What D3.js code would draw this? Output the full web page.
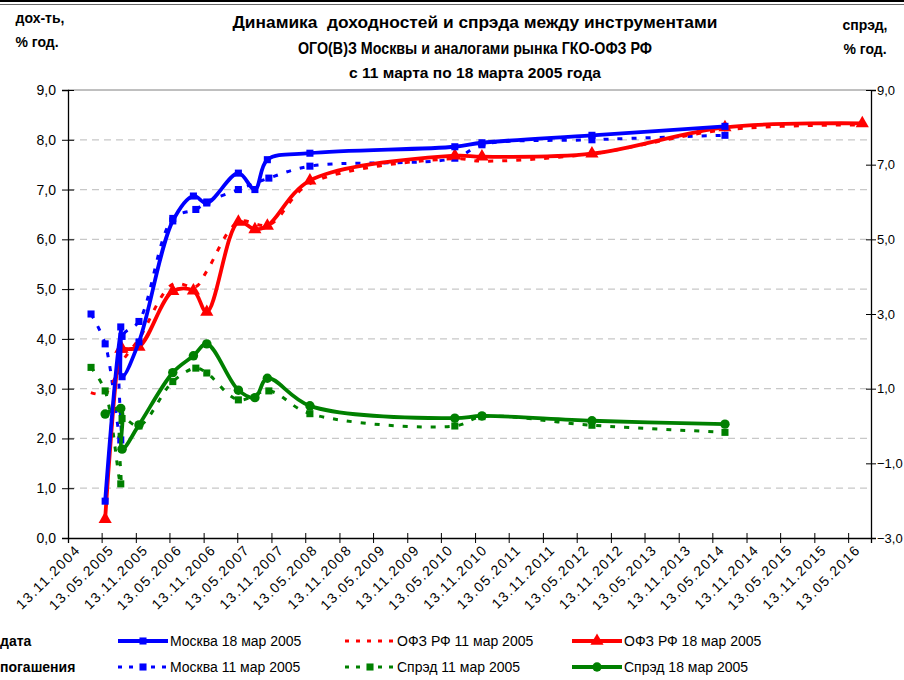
<!DOCTYPE html>
<html>
<head>
<meta charset="utf-8">
<script src="https://cdnjs.cloudflare.com/ajax/libs/d3/7.8.5/d3.min.js"></script>
<style>
body { margin: 0; background: #fff; }
svg { font-family: "Liberation Sans", Arial, sans-serif; }
</style>
</head>
<body>
<script>
// метки оси X (даты погашения)
var tickLabels = ["13.11.2004","13.05.2005","13.11.2005","13.05.2006","13.11.2006","13.05.2007",
  "13.11.2007","13.05.2008","13.11.2008","13.05.2009","13.11.2009","13.05.2010","13.11.2010",
  "13.05.2011","13.11.2011","13.05.2012","13.11.2012","13.05.2013","13.11.2013","13.05.2014",
  "13.11.2014","13.05.2015","13.11.2015","13.05.2016"]

var leftTicks = [0,1,2,3,4,5,6,7,8,9]
var rightTicks = [-3,-1,1,3,5,7,9]

// Москва 18 мар 2005
var mos18 = [
  ["01.06.2005",0.74],["24.08.2005",4.24],["31.08.2005",3.24],["30.11.2005",3.94],
  ["31.05.2006",6.37],["19.09.2006",6.87],["30.11.2006",6.73],["19.05.2007",7.33],
  ["16.08.2007",7.00],["22.10.2007",7.60],["07.06.2008",7.73],["27.07.2010",7.86],
  ["20.12.2010",7.94],["03.08.2012",8.09],["20.07.2014",8.27]
]
// Москва 11 мар 2005
var mos11 = [
  ["17.03.2005",4.50],["01.06.2005",3.90],["24.08.2005",1.97],["31.08.2005",4.05],
  ["30.11.2005",4.35],["31.05.2006",6.42],["02.10.2006",6.60],["30.11.2006",6.75],
  ["19.05.2007",7.00],["30.10.2007",7.23],["07.06.2008",7.47],["27.07.2010",7.63],
  ["20.12.2010",7.90],["03.08.2012",8.00],["20.07.2014",8.09]
]
// ОФЗ РФ 18 мар 2005
var ofz18 = [
  ["01.06.2005",0.38],["24.08.2005",3.80],["31.08.2005",3.80],["30.11.2005",3.84],
  ["31.05.2006",4.96],["19.09.2006",4.97],["30.11.2006",4.54],["19.05.2007",6.35],
  ["16.08.2007",6.20],["22.10.2007",6.27],["07.06.2008",7.18],["27.07.2010",7.68],
  ["20.12.2010",7.66],["03.08.2012",7.72],["20.07.2014",8.25],["28.07.2016",8.33]
]
// ОФЗ РФ 11 мар 2005
var ofz11 = [
  ["16.03.2005",2.92],["01.06.2005",2.90],["24.08.2005",3.50],["31.08.2005",3.55],
  ["30.11.2005",4.00],["31.05.2006",5.10],["02.10.2006",5.05],["30.11.2006",5.36],
  ["19.05.2007",6.35],["30.10.2007",6.29],["07.06.2008",7.12],["27.07.2010",7.62],
  ["20.12.2010",7.57],["03.08.2012",7.72],["20.07.2014",8.20],["28.07.2016",8.30]
]
// Спрэд 18 мар 2005 (правая ось)
var spr18 = [
  ["01.06.2005",0.32],["24.08.2005",0.47],["31.08.2005",-0.62],["30.11.2005",0.03],
  ["31.05.2006",1.43],["19.09.2006",1.88],["30.11.2006",2.20],["19.05.2007",0.96],
  ["16.08.2007",0.76],["22.10.2007",1.28],["07.06.2008",0.54],["27.07.2010",0.21],
  ["20.12.2010",0.27],["03.08.2012",0.14],["20.07.2014",0.05]
]
// Спрэд 11 мар 2005 (правая ось)
var spr11 = [
  ["17.03.2005",1.57],["01.06.2005",0.94],["24.08.2005",-1.55],["31.08.2005",0.20],
  ["30.11.2005",0.00],["31.05.2006",1.19],["02.10.2006",1.55],["30.11.2006",1.42],
  ["19.05.2007",0.70],["30.10.2007",0.94],["07.06.2008",0.33],["27.07.2010",0.00],
  ["20.12.2010",0.25],["03.08.2012",0.02],["20.07.2014",-0.17]
]

var width = 904
var height = 680
var plot = {left: 68, right: 871, top: 90, bottom: 538}

var parse = d3.timeParse("%d.%m.%Y")
var comma = v => d3.format(".1f")(v).replace(".", ",")

var svg = d3.select("body").append("svg")
    .attr("width", width)
    .attr("height", height)

var x = d3.scaleTime()
    .domain([parse("13.11.2004"), parse("13.09.2016")])
    .range([plot.left, plot.right])
var yL = d3.scaleLinear().domain([0, 9]).range([plot.bottom, plot.top])
var yR = d3.scaleLinear().domain([-3, 9]).range([plot.bottom, plot.top])

// рамка сверху
svg.append("line").attr("x1", 0).attr("x2", width).attr("y1", 1).attr("y2", 1)
   .attr("stroke", "#000").attr("stroke-width", 2)
svg.append("line").attr("x1", 0).attr("x2", width).attr("y1", 4.5).attr("y2", 4.5)
   .attr("stroke", "#666").attr("stroke-width", 1)

// сетка
svg.append("g").selectAll("line")
  .data(leftTicks.filter(d => d > 0 && d < 9))
  .enter().append("line")
  .attr("x1", plot.left).attr("x2", plot.right)
  .attr("y1", d => yL(d)).attr("y2", d => yL(d))
  .attr("stroke", "#c8c8c8").attr("stroke-width", 1.2)
  .attr("stroke-dasharray", "7,5")
svg.append("line")
  .attr("x1", plot.left).attr("x2", plot.right)
  .attr("y1", yL(9)).attr("y2", yL(9))
  .attr("stroke", "#808080").attr("stroke-width", 1)

// оси
var axisLeft = svg.append("g")
   .attr("transform", `translate(${plot.left},0)`)
   .call(d3.axisLeft(yL).tickValues(leftTicks).tickFormat(comma).tickSize(6).tickPadding(6))
var axisRight = svg.append("g")
   .attr("transform", `translate(${plot.right},0)`)
   .call(d3.axisRight(yR).tickValues(rightTicks).tickFormat(comma).tickSize(5).tickPadding(1))
var axisBottom = svg.append("g")
   .attr("transform", `translate(0,${plot.bottom})`)
   .call(d3.axisBottom(x).tickValues(tickLabels.map(parse)).tickFormat(d3.timeFormat("%d.%m.%Y")).tickSize(5))

;[axisLeft, axisRight, axisBottom].forEach(a => {
  a.select(".domain").attr("stroke", "#000").attr("stroke-width", 1.3)
  a.selectAll(".tick line").attr("stroke", "#000")
  a.selectAll("text").attr("font-size", 14).attr("fill", "#000")
})
axisRight.selectAll("text").attr("font-size", 13)
axisLeft.selectAll(".tick line").attr("x1", 6)
axisRight.selectAll(".tick line").attr("x1", -5)
axisBottom.selectAll(".tick line").attr("y1", -5)
axisBottom.selectAll("text")
   .attr("text-anchor", "end")
   .attr("letter-spacing", 1.5)
   .attr("transform", "translate(4,4) rotate(-45)")
   .attr("dy", "0.6em")
   .attr("y", 4)
   .attr("x", 0)

// линии
var series = [
  {data: mos11, color: "#0000ff", dash: "5,9", scale: yL, marker: "square"},
  {data: ofz11, color: "#ff0000", dash: "5,9", scale: yL, marker: null},
  {data: spr11, color: "#008000", dash: "5,9", scale: yR, marker: "square"},
  {data: spr18, color: "#008000", dash: null, scale: yR, marker: "circle"},
  {data: ofz18, color: "#ff0000", dash: null, scale: yL, marker: "triangle"},
  {data: mos18, color: "#0000ff", dash: null, scale: yL, marker: "square"}
]

var symbols = {square: d3.symbolSquare, circle: d3.symbolCircle, triangle: d3.symbolTriangle}
var sizes = {square: 50, circle: 70, triangle: 75}

series.forEach(s => {
  var line = d3.line()
    .x(d => x(parse(d[0])))
    .y(d => s.scale(d[1]))
    .curve(d3.curveCatmullRom.alpha(0.5))
  svg.append("path")
    .datum(s.data)
    .attr("fill", "none")
    .attr("stroke", s.color)
    .attr("stroke-width", s.dash ? 3 : 3.8)
    .attr("stroke-dasharray", s.dash)
    .attr("stroke-linejoin", "round")
    .attr("d", line)
  if (s.marker) {
    svg.append("g").selectAll("path")
      .data(s.data)
      .enter().append("path")
      .attr("transform", d => `translate(${x(parse(d[0]))},${s.scale(d[1])})`)
      .attr("d", d3.symbol().type(symbols[s.marker]).size(sizes[s.marker]))
      .attr("fill", s.color)
  }
})

// заголовок
var title = [
  {t: "Динамика  доходностей и спрэда между инструментами", y: 28, size: 16.5, len: 485},
  {t: "ОГО(В)З Москвы и аналогами рынка ГКО-ОФЗ РФ", y: 54, size: 16.5, len: 354},
  {t: "с 11 марта по 18 марта 2005 года", y: 78, size: 14, len: 252}
]
svg.selectAll(".title")
  .data(title)
  .enter().append("text")
  .attr("class", "title")
  .attr("x", 475).attr("y", d => d.y)
  .attr("text-anchor", "middle")
  .attr("font-weight", "bold")
  .attr("font-size", d => d.size)
  .attr("textLength", d => d.len)
  .attr("lengthAdjust", "spacingAndGlyphs")
  .style("white-space", "pre")
  .text(d => d.t)

// подписи осей
var axisTitles = [
  {t: "дох-ть,", x: 40, y: 23, a: "middle"},
  {t: "% год.", x: 37, y: 47, a: "middle"},
  {t: "спрэд,", x: 865, y: 30, a: "middle"},
  {t: "% год.", x: 865, y: 54, a: "middle"},
  {t: "дата", x: 0, y: 646, a: "start"},
  {t: "погашения", x: 0, y: 672, a: "start"}
]
svg.selectAll(".axtitle")
  .data(axisTitles)
  .enter().append("text")
  .attr("x", d => d.x).attr("y", d => d.y)
  .attr("text-anchor", d => d.a)
  .attr("font-weight", "bold")
  .attr("font-size", 14)
  .text(d => d.t)

// легенда
var legendItems = [
  {name: "Москва 18 мар 2005", s: series[5], col: 0, row: 0},
  {name: "ОФЗ РФ 11 мар 2005", s: series[1], col: 1, row: 0},
  {name: "ОФЗ РФ 18 мар 2005", s: series[4], col: 2, row: 0},
  {name: "Москва 11 мар 2005", s: series[0], col: 0, row: 1},
  {name: "Спрэд 11 мар 2005", s: series[2], col: 1, row: 1},
  {name: "Спрэд 18 мар 2005", s: series[3], col: 2, row: 1}
]
var colX = [118, 345, 572]
var rowY = [641, 667]

var legend = svg.selectAll(".legend")
  .data(legendItems)
  .enter().append("g")
  .attr("class", "legend")
  .attr("transform", d => `translate(${colX[d.col]},${rowY[d.row]})`)

legend.append("line")
  .attr("x1", 0).attr("x2", 50)
  .attr("stroke", d => d.s.color)
  .attr("stroke-width", d => d.s.dash ? 3 : 3.8)
  .attr("stroke-dasharray", d => d.s.dash ? "4,7" : null)
legend.filter(d => d.s.marker).append("path")
  .attr("transform", "translate(25,0)")
  .attr("d", d => d3.symbol().type(symbols[d.s.marker]).size(sizes[d.s.marker])())
  .attr("fill", d => d.s.color)
legend.append("text")
  .attr("x", 52).attr("y", 5)
  .attr("font-size", 14)
  .text(d => d.name)
</script>
</body>
</html>
